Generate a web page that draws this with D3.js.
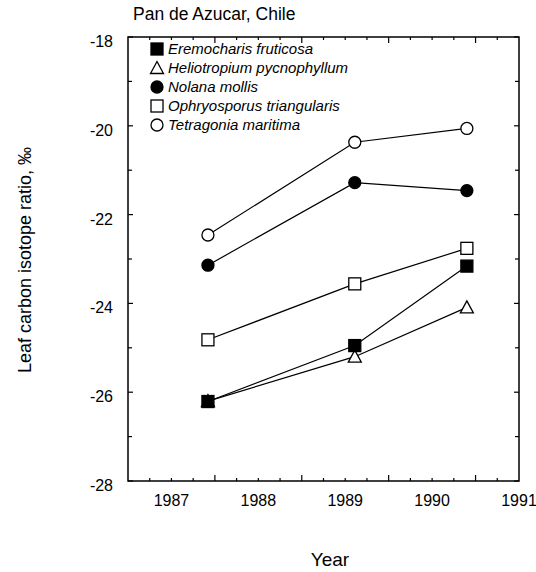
<!DOCTYPE html>
<html><head><meta charset="utf-8">
<script src="https://cdn.jsdelivr.net/npm/d3@7/dist/d3.min.js"></script>
<style>body{margin:0;background:#fff}svg{font-family:"Liberation Sans",Arial,sans-serif}</style>
</head><body><svg id="c" width="536" height="572"></svg>
<script>
const years = [1987.42, 1989.11, 1990.40];
const seriesNames = ["Eremocharis fruticosa","Heliotropium pycnophyllum","Nolana mollis","Ophryosporus triangularis","Tetragonia maritima"];
const markers = ["squareFilled","triangleOpen","circleFilled","squareOpen","circleOpen"];
const eremocharis = [-26.21, -24.95, -23.16];
const heliotropium = [-26.2, -25.2, -24.09];
const nolana = [-23.14, -21.28, -21.46];
const ophryosporus = [-24.82, -23.56, -22.76];
const tetragonia = [-22.46, -20.37, -20.06];
const seriesValues = [eremocharis, heliotropium, nolana, ophryosporus, tetragonia];
const yTicks = [-18,-20,-22,-24,-26,-28];
const xTicks = [1987,1988,1989,1990,1991];

const svg = d3.select("#c");
const L=128, R=519, T=37, B=481;
const x = d3.scaleLinear().domain([1986.5,1991]).range([L,R]);
const y = d3.scaleLinear().domain([-28,-18]).range([B,T]);

// frame
svg.append("rect").attr("x",L).attr("y",T).attr("width",R-L).attr("height",B-T)
  .attr("fill","none").attr("stroke","#000").attr("stroke-width",1.5);

// ticks
const g = svg.append("g").attr("stroke","#000").attr("stroke-width",1.2);
d3.range(-28,-17.9,1).forEach(v=>{
  const len = (Math.round(v)%2===0)?5:4;
  g.append("line").attr("x1",L).attr("x2",L+len).attr("y1",y(v)).attr("y2",y(v));
  g.append("line").attr("x1",R).attr("x2",R-len).attr("y1",y(v)).attr("y2",y(v));
});
d3.range(1986.75,1991,0.25).forEach(v=>{
  const major = Math.abs((v%1)-0.5)<1e-6;
  const len = major?6:3;
  g.append("line").attr("x1",x(v)).attr("x2",x(v)).attr("y1",B).attr("y2",B-len);
  g.append("line").attr("x1",x(v)).attr("x2",x(v)).attr("y1",T).attr("y2",T+len);
});

// tick labels
svg.selectAll(".yt").data(yTicks).enter().append("text")
  .attr("x",113).attr("y",d=>y(d)+10).attr("text-anchor","end")
  .attr("font-size",16).text(d=>d);
svg.selectAll(".xt").data(xTicks).enter().append("text")
  .attr("x",d=>x(d)).attr("y",B+25).attr("text-anchor","middle")
  .attr("font-size",16).text(d=>d);

// axis titles
svg.append("text").attr("x",133).attr("y",20).attr("font-size",17.5).text("Pan de Azucar, Chile");
svg.append("text").attr("transform","translate(31,260) rotate(-90)").attr("text-anchor","middle")
  .attr("font-size",18).text("Leaf carbon isotope ratio, ‰");
svg.append("text").attr("x",330).attr("y",566).attr("text-anchor","middle").attr("font-size",19).text("Year");

function drawMarker(sel, type, cx, cy){
  if(type==="squareFilled"||type==="squareOpen"){
    sel.append("rect").attr("x",cx-6).attr("y",cy-6).attr("width",12).attr("height",12)
      .attr("fill",type==="squareFilled"?"#000":"#fff").attr("stroke","#000").attr("stroke-width",1.3);
  } else if(type==="circleFilled"||type==="circleOpen"){
    sel.append("circle").attr("cx",cx).attr("cy",cy).attr("r",6)
      .attr("fill",type==="circleFilled"?"#000":"#fff").attr("stroke","#000").attr("stroke-width",1.3);
  } else {
    sel.append("path").attr("d",`M${cx},${cy-6.5}L${cx+6.5},${cy+5.5}L${cx-6.5},${cy+5.5}Z`)
      .attr("fill","#fff").attr("stroke","#000").attr("stroke-width",1.3);
  }
}

const line = d3.line().x((d,i)=>x(years[i])).y(d=>y(d));
seriesValues.forEach(vals=>{
  svg.append("path").attr("d",line(vals)).attr("fill","none").attr("stroke","#000").attr("stroke-width",1.2);
});
const order = [1,3,4,2,0];
order.forEach(si=>{
  const gm = svg.append("g");
  seriesValues[si].forEach((v,i)=>drawMarker(gm, markers[si], x(years[i]), y(v)));
});

// legend
const lg = svg.append("g");
seriesNames.forEach((n,i)=>{
  const ly = 49 + i*19;
  drawMarker(lg, markers[i], 157, ly);
  lg.append("text").attr("x",168).attr("y",ly+5).attr("font-size",15).attr("font-style","italic").text(n);
});
</script></body></html>
